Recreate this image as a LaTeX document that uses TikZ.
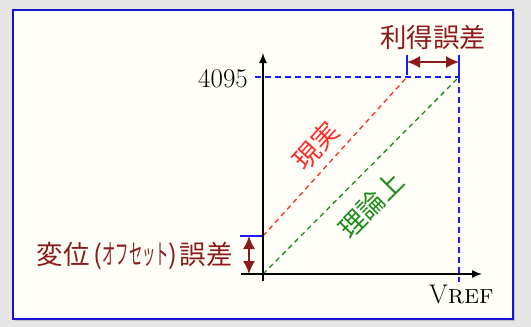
\documentclass[tikz,border=0pt]{standalone}
\usepackage{fontspec}
\newfontfamily\cjk{Noto Sans CJK JP}
\usetikzlibrary{arrows.meta}
\definecolor{dred}{HTML}{8B1A1A}
\definecolor{lred}{HTML}{FF2A2A}
\definecolor{dgreen}{HTML}{1A8C1A}
\definecolor{lblue}{HTML}{1A1AFF}
\definecolor{frameblue}{HTML}{1515D0}
\definecolor{bggray}{HTML}{E6E6E6}
\definecolor{cream}{HTML}{FFFFF7}
\tikzset{
  axisline/.style={line width=1.4pt,black,-{Latex[length=10pt,width=8pt]}},
  blueguide/.style={lblue,line width=1.2pt,dash pattern=on 6pt off 4pt},
  bluebar/.style={lblue,line width=1.8pt},
  realline/.style={lred,line width=1.3pt,dash pattern=on 5pt off 4pt},
  theoline/.style={dgreen,line width=1.3pt,dash pattern=on 5pt off 4pt},
  errarrow/.style={dred,line width=1.6pt,{Latex[length=13pt,width=12pt]}-{Latex[length=13pt,width=12pt]}},
  cjklabel/.style={font=\cjk\fontsize{26.5}{26.5}\selectfont,inner sep=0pt},
  numlabel/.style={font=\fontsize{27}{27}\selectfont,inner sep=0pt,text=black}
}
\begin{document}
\begin{tikzpicture}[x=1pt,y=-1pt]
\useasboundingbox (0,0) rectangle (531,327);
\fill[bggray] (0,0) rectangle (531,327);
\fill[black!25] (15,12) rectangle (515,321);
\draw[frameblue,line width=2pt,fill=cream] (13,10) rectangle (513,319);

% coordinates
\coordinate (O) at (263,274);
\coordinate (ytop) at (263,53);
\coordinate (ybot) at (263,281);
\coordinate (xleft) at (241,274);
\coordinate (xend) at (482,274);
\coordinate (A) at (263,236);
\coordinate (Aleft) at (240,236);
\coordinate (Fleft) at (255,77);
\coordinate (R) at (407,77);
\coordinate (T) at (459,77);
\coordinate (Tbot) at (459,282);
\coordinate (Rtop) at (407,55);
\coordinate (Rbar) at (407,75);
\coordinate (Ttop) at (459,55);
\coordinate (ga) at (407,62);
\coordinate (gb) at (459,62);
\coordinate (oa) at (249,236);
\coordinate (ob) at (249,274);

% guides
\draw[blueguide] (Fleft) -- (T);
\draw[blueguide] (T) -- (Tbot);
\draw[bluebar] (Rtop) -- (Rbar);
\draw[bluebar] (Ttop) -- (T);
\draw[lblue,line width=1.6pt] (Aleft) -- (A);

% lines
\draw[realline] (A) -- (R);
\draw[theoline] (O) -- (T);

% axes
\draw[axisline] (ybot) -- (ytop);
\draw[axisline] (xleft) -- (xend);

% error arrows
\draw[errarrow] (ga) -- (gb);
\draw[errarrow] (oa) -- (ob);

% labels
\node[numlabel,anchor=base east] (n4095) at (248,87) {4095};
\node[numlabel,anchor=base west] (vref) at (429,303) {V\textsc{ref}};
\node[cjklabel,text=dred] (gain) at (433,37) {利得誤差};
\node[cjklabel,text=dred,anchor=east] (offs) at (233,256) {変位\hspace{4pt}(\scalebox{0.5}[1.05]{オフセット})\hspace{2pt}誤差};
\node[cjklabel,text=lred,rotate=47.8] (real) at (316,146) {現実};
\node[cjklabel,text=dgreen,rotate=45] (theo) at (371,205) {理論上};
\end{tikzpicture}
\end{document}
